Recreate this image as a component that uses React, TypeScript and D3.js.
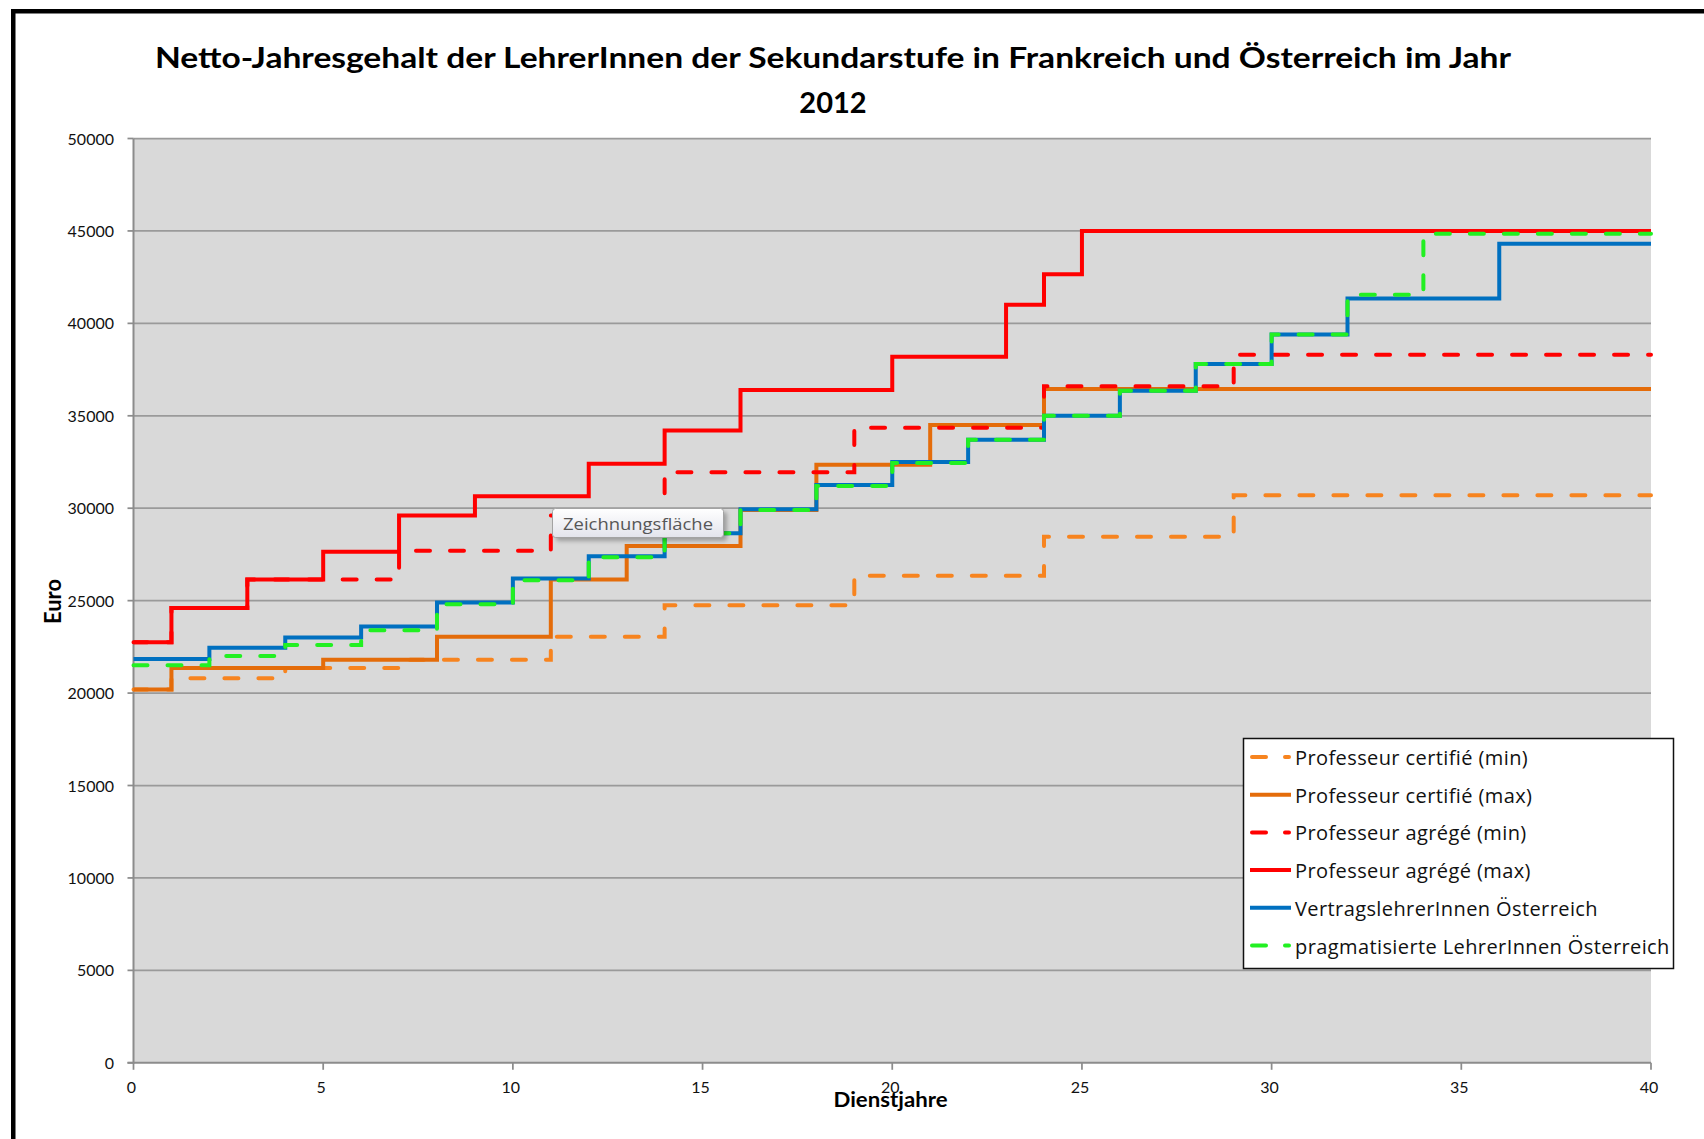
import { curveStepAfter, line, scaleLinear } from "d3";

const WIDTH = 1704;
const HEIGHT = 1139;

const PLOT_LEFT = 133.5;
const PLOT_RIGHT = 1651;
const PLOT_TOP = 138.5;
const PLOT_BOTTOM = 1062.8;

const FONT = "Lato, 'Open Sans', sans-serif";
const LEGEND_FONT = "'Open Sans', Lato, sans-serif";

const titleLines = [
  "Netto-Jahresgehalt der LehrerInnen der Sekundarstufe in Frankreich und Österreich im Jahr",
  "2012"
];
const xAxisTitle = "Dienstjahre";
const yAxisTitle = "Euro";
const tooltipLabel = "Zeichnungsfläche";

const xTicks = [0, 5, 10, 15, 20, 25, 30, 35, 40];
const yTicks = [0, 5000, 10000, 15000, 20000, 25000, 30000, 35000, 40000, 45000, 50000];
const lastYear = 40;

// [Dienstjahr, Euro] – Wert gilt ab diesem Jahr bis zur nächsten Stufe
const certifieMin: [number, number][] = [
  [0, 20200], [1, 20800], [4, 21350], [7, 21800], [11, 23050],
  [14, 24750], [19, 26350], [24, 28450], [29, 30700]
];
const certifieMax: [number, number][] = [
  [0, 20200], [1, 21350], [5, 21800], [8, 23050], [11, 26150],
  [13, 27950], [16, 29900], [18, 32350], [21, 34500], [24, 36450]
];
const agregeMin: [number, number][] = [
  [0, 22750], [1, 24600], [3, 26150], [7, 27700], [11, 29600],
  [14, 31950], [19, 34350], [24, 36600], [29, 38300]
];
const agregeMax: [number, number][] = [
  [0, 22750], [1, 24600], [3, 26150], [5, 27650], [7, 29600], [9, 30650],
  [12, 32400], [14, 34200], [16, 36400], [20, 38200], [23, 41000], [24, 42650], [25, 45000]
];
const vertragslehrer: [number, number][] = [
  [0, 21850], [2, 22450], [4, 23000], [6, 23600], [8, 24900], [10, 26200],
  [12, 27400], [14, 28650], [16, 29950], [18, 31250], [20, 32500], [22, 33700],
  [24, 35000], [26, 36350], [28, 37800], [30, 39400], [32, 41350], [36, 44300]
];
const pragmatisierte: [number, number][] = [
  [0, 21500], [2, 22000], [4, 22600], [6, 23400], [8, 24800], [10, 26100],
  [12, 27350], [14, 28650], [16, 29900], [18, 31200], [20, 32450], [22, 33700],
  [24, 35000], [26, 36350], [28, 37800], [30, 39400], [32, 41550], [34, 44850]
];

type Series = {
  name: string;
  points: [number, number][];
  color: string;
  dashed: boolean;
};

// Reihenfolge wie in Excel: spätere Reihen liegen oben
const seriesList: Series[] = [
  { name: "Professeur certifié (min)", points: certifieMin, color: "#F7841F", dashed: true },
  { name: "Professeur certifié (max)", points: certifieMax, color: "#E46C0A", dashed: false },
  { name: "Professeur agrégé (min)", points: agregeMin, color: "#FF0000", dashed: true },
  { name: "Professeur agrégé (max)", points: agregeMax, color: "#FF0000", dashed: false },
  { name: "VertragslehrerInnen Österreich", points: vertragslehrer, color: "#0070C0", dashed: false },
  { name: "pragmatisierte LehrerInnen Österreich", points: pragmatisierte, color: "#22F022", dashed: true }
];

const LINE_WIDTH = 4;
const DASH = "14 20";

export default function App() {
  const xScale = scaleLinear().domain([0, 40]).range([PLOT_LEFT, PLOT_RIGHT]);
  const yScale = scaleLinear().domain([0, 50000]).range([PLOT_BOTTOM, PLOT_TOP]);

  const stepLine = line<[number, number]>()
    .x((point) => xScale(point[0]))
    .y((point) => yScale(point[1]))
    .curve(curveStepAfter);

  const legendLeft = 1243.5;
  const legendTop = 738.5;
  const legendRowStart = 765;
  const legendRowGap = 37.7;

  return (
    <svg
      width={WIDTH}
      height={HEIGHT}
      viewBox={`0 0 ${WIDTH} ${HEIGHT}`}
      style={{ position: "absolute", left: 0, top: 0, display: "block", background: "#fff" }}
      fontFamily={FONT}
    >
      <defs>
        <linearGradient id="tipFill" x1="0" y1="0" x2="0" y2="1">
          <stop offset="0%" stopColor="#ffffff" />
          <stop offset="100%" stopColor="#e3e4ec" />
        </linearGradient>
        <filter id="tipShadow" x="-10%" y="-30%" width="130%" height="180%">
          <feGaussianBlur stdDeviation="2" />
        </filter>
      </defs>

      {/* Rahmen des Screenshots */}
      <rect x={13.25} y={11.25} width={WIDTH + 20} height={HEIGHT + 20} fill="#fff" stroke="#000" strokeWidth={4.5} />

      {titleLines.map((text, i) => (
        <text
          key={text}
          x={833}
          y={68 + i * 45}
          textAnchor="middle"
          fontSize={29}
          fontWeight="bold"
          fill="#000"
          textLength={i === 0 ? 1356 : undefined}
          lengthAdjust="spacingAndGlyphs"
        >
          {text}
        </text>
      ))}

      <rect x={PLOT_LEFT} y={PLOT_TOP} width={PLOT_RIGHT - PLOT_LEFT} height={PLOT_BOTTOM - PLOT_TOP} fill="#D9D9D9" />

      {yTicks.map((tick) => (
        <g key={tick}>
          {tick > 0 ? (
            <line x1={PLOT_LEFT} x2={PLOT_RIGHT} y1={yScale(tick)} y2={yScale(tick)} stroke="#9a9a9a" strokeWidth={1.75} />
          ) : null}
          <line x1={PLOT_LEFT - 6} x2={PLOT_LEFT} y1={yScale(tick)} y2={yScale(tick)} stroke="#8c8c8c" strokeWidth={1.75} />
          <text x={114} y={yScale(tick) + 6} textAnchor="end" fontSize={16} fill="#111">
            {tick}
          </text>
        </g>
      ))}

      {xTicks.map((tick) => (
        <g key={tick}>
          <line x1={xScale(tick)} x2={xScale(tick)} y1={PLOT_BOTTOM} y2={PLOT_BOTTOM + 7} stroke="#8c8c8c" strokeWidth={1.75} />
          <text x={xScale(tick) - 2} y={1093} textAnchor="middle" fontSize={16} fill="#111">
            {tick}
          </text>
        </g>
      ))}

      <line x1={PLOT_LEFT} x2={PLOT_LEFT} y1={PLOT_TOP} y2={PLOT_BOTTOM + 1} stroke="#8c8c8c" strokeWidth={2} />
      <line x1={PLOT_LEFT - 6} x2={PLOT_RIGHT} y1={PLOT_BOTTOM} y2={PLOT_BOTTOM} stroke="#8c8c8c" strokeWidth={2} />

      {seriesList.map((series) => {
        const last = series.points[series.points.length - 1];
        const path = stepLine([...series.points, [lastYear, last[1]]]);
        return path ? (
          <path
            key={series.name}
            d={path}
            fill="none"
            stroke={series.color}
            strokeWidth={LINE_WIDTH}
            strokeDasharray={series.dashed ? DASH : undefined}
            strokeLinecap={series.dashed ? "round" : "butt"}
            strokeLinejoin="miter"
          />
        ) : null;
      })}

      <text x={890.5} y={1107} textAnchor="middle" fontSize={21} fontWeight="bold" fill="#000" textLength={114} lengthAdjust="spacingAndGlyphs">
        {xAxisTitle}
      </text>
      <text
        transform={`translate(61, 601.5) rotate(-90)`}
        textAnchor="middle"
        fontSize={22}
        fontWeight="bold"
        fill="#000"
        textLength={45}
        lengthAdjust="spacingAndGlyphs"
      >
        {yAxisTitle}
      </text>

      {/* Legende */}
      <rect x={legendLeft} y={legendTop} width={430} height={230} fill="#fff" stroke="#111" strokeWidth={1.5} />
      {seriesList.map((series, i) => {
        const baseline = legendRowStart + i * legendRowGap;
        return (
          <g key={series.name}>
            <line
              x1={series.dashed ? 1252 : 1250}
              x2={series.dashed ? 1289 : 1291}
              y1={baseline - 8}
              y2={baseline - 8}
              stroke={series.color}
              strokeWidth={LINE_WIDTH}
              strokeDasharray={series.dashed ? "14 19" : undefined}
              strokeLinecap={series.dashed ? "round" : "butt"}
            />
            <text x={1295} y={baseline} fontSize={20} letterSpacing={0.4} fill="#111" fontFamily={LEGEND_FONT}>
              {series.name}
            </text>
          </g>
        );
      })}

      {/* Excel-Tooltip aus dem Screenshot */}
      <rect x={556} y={512} width={171} height={29} rx={3} fill="rgba(0,0,0,0.28)" filter="url(#tipShadow)" />
      <rect x={552.5} y={508.5} width={171} height={29} rx={3} fill="url(#tipFill)" stroke="#a3a3a3" strokeWidth={1} />
      <text x={563} y={530} fontSize={17} fill="#575757" fontFamily="'Open Sans', sans-serif" textLength={150} lengthAdjust="spacingAndGlyphs">
        {tooltipLabel}
      </text>
    </svg>
  );
}
